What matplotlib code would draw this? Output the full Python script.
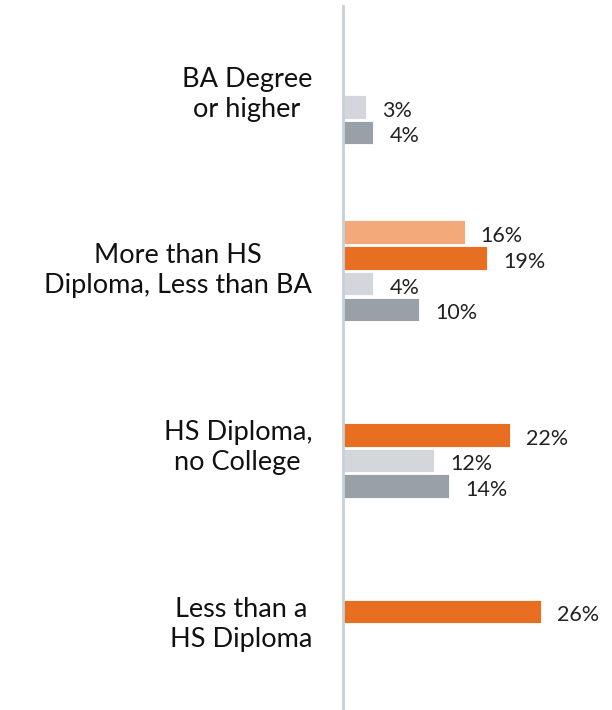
import matplotlib
matplotlib.use("Agg")
import matplotlib.pyplot as plt
import numpy as np

categories = ["BA Degree\nor higher",
              "More than HS\nDiploma, Less than BA",
              "HS Diploma,\nno College",
              "Less than a\nHS Diploma"]
series_names = ["Series A", "Series B", "Series C", "Series D"]
# None = no bar in that slot
values = {
    "Series A": [None, 16, None, None],
    "Series B": [None, 19, 22, 26],
    "Series C": [3, 4, 12, None],
    "Series D": [4, 10, 14, None],
}
colors = ["#F4A97B", "#E86E22", "#D3D6DA", "#98A1A8"]

plt.rcParams['font.family'] = ['Lato', 'DejaVu Sans']

W, H = 612, 710
fig = plt.figure(figsize=(W / 100, H / 100), dpi=100)
ax_left = 343 / W
ax_top = 6
ax = fig.add_axes([ax_left, 0, 1 - ax_left, 1 - ax_top / H])

slot = 25.7  # px per slot
ax_h_px = H - ax_top
ymax = ax_h_px / slot
group_gap = 6.88
first_center = (94 - ax_top) / slot
offsets = [-1.5, -0.5, 0.5, 1.5]
px_per_pct = 7.6
xmax = (W - 343) / px_per_pct

for si, name in enumerate(series_names):
    for gi, v in enumerate(values[name]):
        if v is None:
            continue
        y = first_center + gi * group_gap + offsets[si]
        ax.barh(y, v, height=0.92, color=colors[si], edgecolor='white', linewidth=0.6)
        ax.text(v + 2.1, y + 0.15, f"{v}%", va='center', ha='left',
                fontsize=15.5, color='#222222')

for gi, cat in enumerate(categories):
    yc = first_center + gi * group_gap
    ax.text(-(343 - 312) / px_per_pct, yc, cat, ha='right', va='center',
            multialignment='center', fontsize=19.5, color='#111111',
            linespacing=1.25, clip_on=False)

ax.set_xlim(0, xmax)
ax.set_ylim(ymax, 0)
for s in ['top', 'right', 'bottom']:
    ax.spines[s].set_visible(False)
ax.spines['left'].set_color('#C8D0D8')
ax.spines['left'].set_linewidth(2)
ax.set_xticks([])
ax.set_yticks([])

fig.savefig("out.png", dpi=100)
